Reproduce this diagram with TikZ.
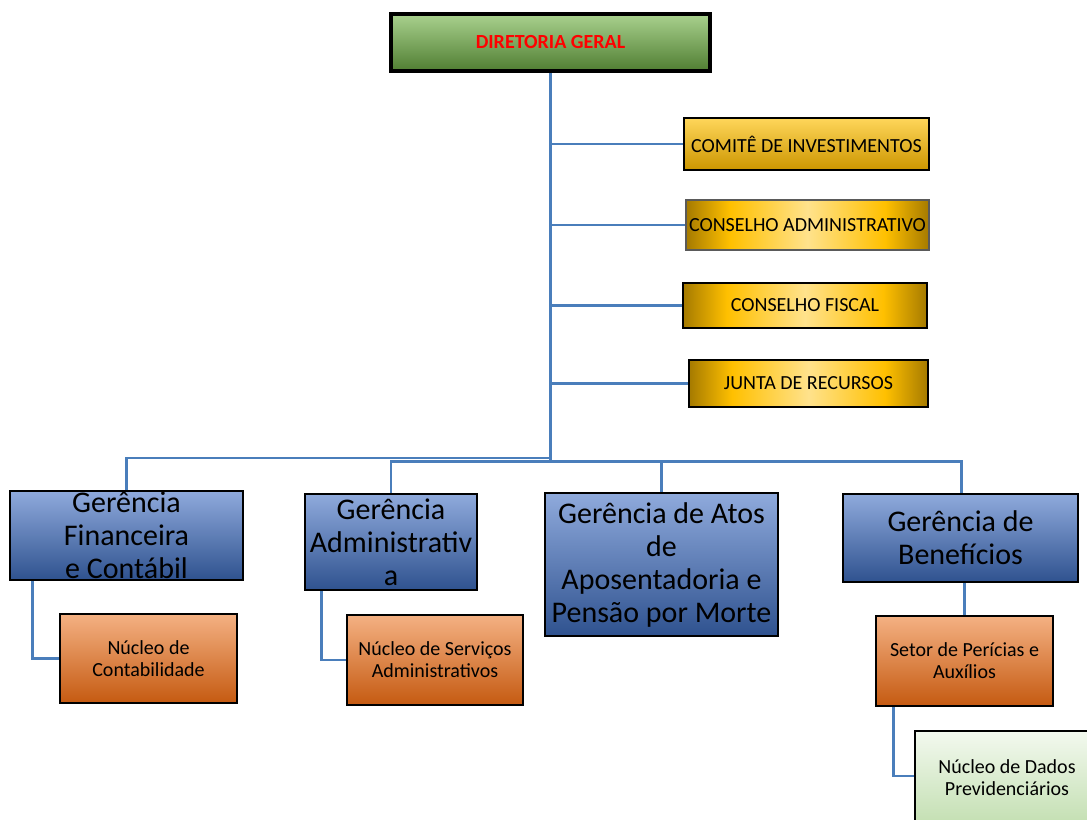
\documentclass[tikz,border=0pt]{standalone}
\usepackage{fontspec}
\setmainfont{Carlito}
\usetikzlibrary{calc}
\pgfdeclarelayer{background}
\pgfsetlayers{background,main}
\definecolor{lineblue}{RGB}{74,126,187}
\definecolor{grTop}{RGB}{169,209,142}
\definecolor{grMid}{RGB}{112,173,71}
\definecolor{grBot}{RGB}{80,126,50}
\definecolor{blTop}{RGB}{143,170,220}
\definecolor{blMid}{RGB}{68,114,196}
\definecolor{blBot}{RGB}{47,82,143}
\definecolor{orTop}{RGB}{244,177,131}
\definecolor{orMid}{RGB}{237,125,49}
\definecolor{orBot}{RGB}{197,90,17}
\definecolor{goTop}{RGB}{255,214,90}
\definecolor{goMid}{RGB}{255,192,0}
\definecolor{goBot}{RGB}{204,150,0}
\definecolor{gdk}{RGB}{165,122,0}
\definecolor{gmd}{RGB}{255,192,0}
\definecolor{glt}{RGB}{255,226,140}
\definecolor{lgTop}{RGB}{243,249,239}
\definecolor{lgBot}{RGB}{197,224,180}
\pgfdeclarehorizontalshading{goldh}{100bp}{color(0bp)=(gdk); color(25bp)=(gdk); color(34bp)=(gmd); color(50bp)=(glt); color(66bp)=(gmd); color(75bp)=(gdk); color(100bp)=(gdk)}
\tikzset{
  box/.style={rectangle, inner sep=0pt, draw=black, line width=2.2pt},
  greenbox/.style={box, line width=3pt, top color=grTop, middle color=grMid, bottom color=grBot},
  goldv/.style={box, top color=goTop, middle color=goMid, bottom color=goBot},
  goldhbox/.style={box, shading=goldh},
  goldthin/.style={box, shading=goldh, draw={rgb,255:red,90;green,90;blue,90}, line width=0.8pt},
  bluebox/.style={box, top color=blTop, middle color=blMid, bottom color=blBot},
  orangebox/.style={box, top color=orTop, middle color=orMid, bottom color=orBot},
  lgreenbox/.style={box, top color=lgTop, bottom color=lgBot},
  smalltxt/.style={inner sep=0pt, align=center, font=\fontsize{15}{16.5}\selectfont},
  bigtxt/.style={inner sep=0pt, align=center, font=\fontsize{22.5}{24.75}\selectfont},
  conn/.style={draw=lineblue, line width=2.1pt},
}
\begin{document}
\begin{tikzpicture}[x=0.75pt,y=-0.75pt]
\useasboundingbox (0,0) rectangle (1087,819);
% top
\node[greenbox, minimum width=319*0.75pt, minimum height=57*0.75pt] (dg) at (550.5,42.5) {};
\node[inner sep=0pt, text=red, font=\fontsize{15}{16.5}\selectfont\bfseries] (dgt) at (dg) {DIRETORIA GERAL};
% committees
\node[goldv, minimum width=245*0.75pt, minimum height=52*0.75pt] (ci) at (806.5,144) {};
\node[smalltxt] (cit) at (ci) {COMITÊ DE INVESTIMENTOS};
\node[goldthin, minimum width=243*0.75pt, minimum height=50*0.75pt] (ca) at (807.5,225) {};
\node[smalltxt] (cat) at (ca) {CONSELHO ADMINISTRATIVO};
\node[goldhbox, minimum width=244*0.75pt, minimum height=45*0.75pt] (cf) at (805,305.5) {};
\node[smalltxt] (cft) at (cf) {CONSELHO FISCAL};
\node[goldhbox, minimum width=239*0.75pt, minimum height=47*0.75pt] (jr) at (808.5,383.5) {};
\node[smalltxt] (jrt) at (jr) {JUNTA DE RECURSOS};
% managements
\node[bluebox, minimum width=233*0.75pt, minimum height=89*0.75pt] (gf) at (126.5,535.5) {};
\node[bigtxt] (gft) at (gf) {Gerência\\Financeira\\e Contábil};
\node[bluebox, minimum width=172*0.75pt, minimum height=96*0.75pt] (ga) at (391,542) {};
\node[bigtxt] (gat) at (ga) {Gerência\\Administrativ\\a};
\node[bluebox, minimum width=233*0.75pt, minimum height=143*0.75pt] (gt) at (661.5,564.5) {};
\node[bigtxt] (gtt) at (gt) {Gerência de Atos\\de\\Aposentadoria e\\Pensão por Morte};
\node[bluebox, minimum width=235*0.75pt, minimum height=88*0.75pt] (gb) at (960.5,538) {};
\node[bigtxt] (gbt) at (gb) {Gerência de\\Benefícios};
% units
\node[orangebox, minimum width=177*0.75pt, minimum height=89*0.75pt] (nc) at (148.5,658.5) {};
\node[smalltxt] (nct) at (nc) {Núcleo de\\Contabilidade};
\node[orangebox, minimum width=176*0.75pt, minimum height=90*0.75pt] (ns) at (435,660) {};
\node[smalltxt] (nst) at (ns) {Núcleo de Serviços\\Administrativos};
\node[orangebox, minimum width=177*0.75pt, minimum height=90*0.75pt] (sp) at (964.5,661) {};
\node[smalltxt] (spt) at (sp) {Setor de Perícias e\\Auxílios};
\node[lgreenbox, minimum width=176*0.75pt, minimum height=90*0.75pt] (nd) at (1003,776) {};
\node[smalltxt] (ndt) at (1007,778) {Núcleo de Dados\\Previdenciários};
% connectors
\coordinate (busl) at (550.5,458);
\coordinate (busr) at (550.5,461.5);
\begin{pgfonlayer}{background}
\draw[conn] (dg.south) -- (busr);
\draw[conn] (ci.west) -- (ci.west -| dg.south);
\draw[conn] (ca.west) -- (ca.west -| dg.south);
\draw[conn] (cf.west) -- (cf.west -| dg.south);
\draw[conn] (jr.west) -- (jr.west -| dg.south);
\draw[conn] (busl) -| (gf.north);
\draw[conn] (busr) -| (ga.north);
\draw[conn] (busr) -| (gt.north);
\draw[conn] (busr) -| ([xshift=1pt]gb.north);
\draw[conn] ([xshift=18pt]gf.south west) |- (nc.west);
\draw[conn] ([xshift=13.5pt]ga.south west) |- (ns.west);
\draw[conn] (sp.north) -- (sp.north |- gb.south);
\draw[conn] ([xshift=14.25pt]sp.south west) |- (nd.west);
\end{pgfonlayer}
\end{tikzpicture}
\end{document}
